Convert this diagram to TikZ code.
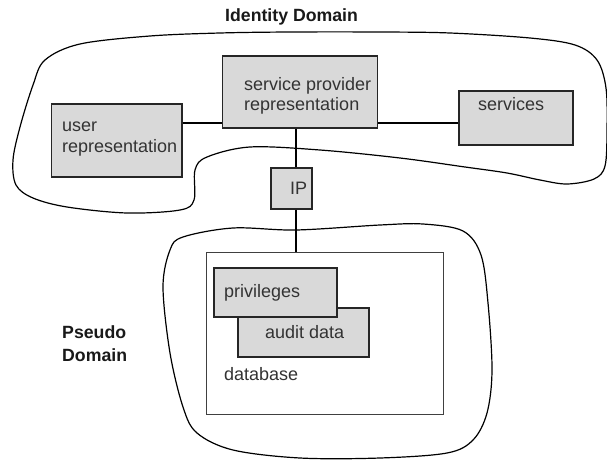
\documentclass[tikz,border=0pt]{standalone}
\usepackage{fontspec}
\setmainfont{Liberation Sans}
\begin{document}
\begin{tikzpicture}[x=1pt,y=-1pt,
  box/.style={draw=black!85, line width=1.1pt, fill=black!15, inner sep=0pt},
  dbbox/.style={draw=black!75, line width=0.9pt, fill=white, inner sep=0pt},
  txt/.style={anchor=base west, inner sep=0pt, text=black!80, font=\fontsize{18}{20}\selectfont},
  ttl/.style={anchor=base west, inner sep=0pt, text=black!90, font=\fontsize{17.7}{20}\selectfont\bfseries},
  blob/.style={draw=black, line width=1.2pt},
  conn/.style={draw=black, line width=1.1pt}]
\useasboundingbox (0,0) rectangle (607,460);

% Identity domain outline
\draw[blob] plot[smooth cycle, tension=0.55] coordinates {
 (290,32) (380,32) (450,33) (530,38) (575,45) (597,60) (606,88) (607,130)
 (605,166) (594,179) (567,184) (540,180) (507,173) (465,167) (400,158)
 (320,150) (250,147) (207,157) (195,170) (194,200) (180,210) (127,213)
 (67,207) (33,198) (16,185) (13,160) (20,127) (33,85) (45,60) (80,44)
 (150,36) (220,33)};

% Pseudo domain outline
\draw[blob] plot[smooth cycle, tension=0.55] coordinates {
 (296,230) (380,225) (423,224) (463,231) (481,255) (488,303) (492,370)
 (487,413) (473,440) (447,453) (380,458) (300,458) (233,450) (197,433)
 (183,407) (170,353) (163,287) (170,250) (183,237) (233,228)};

% boxes
\node[box, minimum width=155, minimum height=72] (sp) at (300,92) {};
\node[box, minimum width=130.5, minimum height=73] (ur) at (116.75,140.5) {};
\node[box, minimum width=114, minimum height=54] (sv) at (516,118) {};
\node[box, minimum width=41, minimum height=41] (ip) at (291.5,188.5) {};
\node[dbbox, minimum width=237, minimum height=162] (db) at (324.5,333) {};
\node[box, minimum width=131, minimum height=49] (ad) at (303.5,332.5) {};
\node[box, minimum width=123, minimum height=49] (pr) at (275.5,292.5) {};

% connectors
\coordinate (h) at (0,123);
\coordinate (v) at (296,0);
\draw[conn] (ur.east |- h) -- (sp.west |- h);
\draw[conn] (sp.east |- h) -- (sv.west |- h);
\draw[conn] (sp.south -| v) -- (ip.north -| v);
\draw[conn] (ip.south -| v) -- (db.north -| v);

% texts
\node[ttl] (t1) at (225,22) {Identity Domain};
\node[ttl] (t2) at (62,338) {Pseudo};
\node[ttl] (t3) at (62,361) {Domain};
\node[txt] (a1) at (244,90) {service provider};
\node[txt] (a2) at (244,110) {representation};
\node[txt] (b1) at (62,131) {user};
\node[txt] (b2) at (62,152) {representation};
\node[txt] (c1) at (478,110) {services};
\node[txt] (d1) at (290,194) {IP};
\node[txt] (e1) at (224,297) {privileges};
\node[txt] (f1) at (265,338) {audit data};
\node[txt] (g1) at (224,380) {database};
\end{tikzpicture}
\end{document}
